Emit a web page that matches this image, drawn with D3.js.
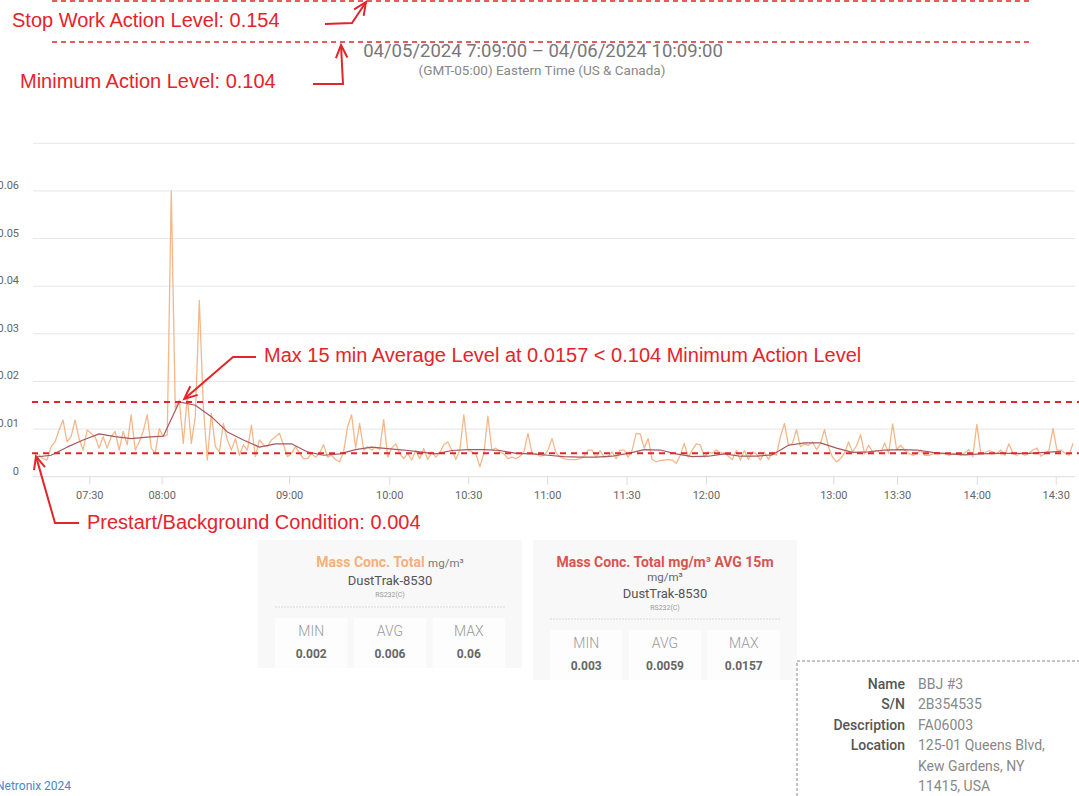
<!DOCTYPE html>
<html lang="en">
<head>
<meta charset="UTF-8">
<title>Mass Conc. Total - DustTrak-8530</title>
<script src="https://d3js.org/d3.v7.min.js"></script>
<style>
  body { margin: 0; background: #fff; }
  text { font-family: Roboto, "Liberation Sans", sans-serif; }
</style>
</head>
<body>
<script>
// raw readings, mg/m3 (one value per sample)
var rawMass = [
  0.0049,0.0045,0.0038,0.0035,0.0063,0.0073,0.0098,0.0119,0.0073,0.0084,
  0.0119,0.0080,0.0056,0.0098,0.0091,0.0084,0.0060,0.0084,0.0060,0.0084,
  0.0095,0.0056,0.0095,0.0067,0.0130,0.0056,0.0073,0.0095,0.0130,0.0060,
  0.0049,0.0101,0.0084,0.0088,0.0600,0.0143,0.0161,0.0070,0.0168,0.0070,
  0.0126,0.0370,0.0147,0.0035,0.0133,0.0063,0.0052,0.0112,0.0077,0.0056,
  0.0080,0.0045,0.0067,0.0056,0.0108,0.0042,0.0077,0.0067,0.0063,0.0077,
  0.0084,0.0091,0.0067,0.0042,0.0049,0.0063,0.0049,0.0038,0.0038,0.0049,
  0.0041,0.0049,0.0067,0.0041,0.0045,0.0036,0.0031,0.0052,0.0105,0.0130,
  0.0060,0.0112,0.0056,0.0063,0.0056,0.0062,0.0057,0.0120,0.0041,0.0060,
  0.0069,0.0049,0.0038,0.0049,0.0035,0.0055,0.0038,0.0059,0.0036,0.0052,
  0.0041,0.0050,0.0067,0.0073,0.0056,0.0036,0.0056,0.0130,0.0056,0.0052,
  0.0048,0.0021,0.0049,0.0127,0.0056,0.0060,0.0052,0.0048,0.0038,0.0041,
  0.0038,0.0043,0.0052,0.0091,0.0050,0.0048,0.0043,0.0045,0.0056,0.0080,
  0.0050,0.0041,0.0038,0.0036,0.0036,0.0036,0.0038,0.0043,0.0056,0.0056,
  0.0041,0.0055,0.0041,0.0042,0.0052,0.0038,0.0056,0.0056,0.0041,0.0056,
  0.0091,0.0090,0.0060,0.0080,0.0036,0.0031,0.0034,0.0035,0.0036,0.0035,
  0.0028,0.0045,0.0070,0.0041,0.0056,0.0069,0.0067,0.0041,0.0052,0.0049,
  0.0056,0.0050,0.0050,0.0043,0.0036,0.0055,0.0035,0.0055,0.0036,0.0052,
  0.0048,0.0035,0.0052,0.0036,0.0052,0.0045,0.0084,0.0112,0.0066,0.0070,
  0.0099,0.0063,0.0069,0.0066,0.0073,0.0057,0.0070,0.0099,0.0062,0.0041,
  0.0031,0.0038,0.0050,0.0073,0.0052,0.0065,0.0088,0.0048,0.0066,0.0052,
  0.0055,0.0049,0.0071,0.0049,0.0111,0.0057,0.0066,0.0056,0.0049,0.0045,
  0.0048,0.0056,0.0045,0.0045,0.0048,0.0049,0.0048,0.0049,0.0045,0.0048,
  0.0049,0.0045,0.0050,0.0057,0.0042,0.0110,0.0049,0.0050,0.0055,0.0052,
  0.0048,0.0056,0.0045,0.0069,0.0049,0.0045,0.0049,0.0045,0.0049,0.0056,
  0.0060,0.0043,0.0049,0.0055,0.0101,0.0056,0.0056,0.0049,0.0045,0.0070
];

// 15 min average, read at every 4th sample
var avgStep = 4;
var avg15 = [
  0.0041,0.0045,0.0062,0.0077,0.0090,0.0084,0.0080,0.0083,0.0085,0.0157,
  0.0150,0.0126,0.0094,0.0077,0.0062,0.0069,0.0069,0.0052,0.0045,0.0048,
  0.0057,0.0062,0.0059,0.0056,0.0052,0.0048,0.0055,0.0057,0.0057,0.0055,
  0.0049,0.0048,0.0045,0.0042,0.0041,0.0041,0.0043,0.0049,0.0057,0.0056,
  0.0048,0.0042,0.0043,0.0048,0.0043,0.0043,0.0046,0.0066,0.0071,0.0071,
  0.0060,0.0051,0.0052,0.0056,0.0057,0.0056,0.0051,0.0048,0.0046,0.0048,
  0.0049,0.0049,0.0049,0.0051,0.0053
];

// time labels and the sample position they fall on
var tickLabels = ["07:30","08:00","09:00","10:00","10:30","11:00","11:30","12:00","13:00","13:30","14:00","14:30"];
var tickAt = [13.55, 31.6, 63.4, 88.4, 108.1, 127.8, 147.6, 167.4, 199.2, 215.1, 235.0, 254.7];

var yTicks = [0, 0.01, 0.02, 0.03, 0.04, 0.05, 0.06, 0.07];
var yLabels = ["0", "0.01", "0.02", "0.03", "0.04", "0.05", "0.06", ""];

var maxAvgLevel = 0.0157;
var backgroundLevel = 0.0049;

var statNames = ["MIN", "AVG", "MAX"];
var rawStats = ["0.002", "0.006", "0.06"];
var avgStats = ["0.003", "0.0059", "0.0157"];

var infoLabels = ["Name", "S/N", "Description", "Location"];
var infoValues = [["BBJ #3"], ["2B354535"], ["FA06003"], ["125-01 Queens Blvd,", "Kew Gardens, NY", "11415, USA"]];

var red = "#e5232b";

var svg = d3.select("body").append("svg")
    .attr("width", 1079)
    .attr("height", 796);

var x = d3.scaleLinear().domain([0, rawMass.length - 1]).range([35, 1073]);
var y = d3.scaleLinear().domain([0, 0.07]).range([476.7, 143.3]);

// header
svg.append("text").attr("x", 543).attr("y", 57).attr("text-anchor", "middle")
    .style("font-size", "18.5px").style("fill", "#777")
    .text("04/05/2024 7:09:00 \u2013 04/06/2024 10:09:00");
svg.append("text").attr("x", 542).attr("y", 75).attr("text-anchor", "middle")
    .style("font-size", "13.5px").style("fill", "#888")
    .text("(GMT-05:00) Eastern Time (US & Canada)");

// grid
svg.append("g").selectAll("line").data(yTicks.slice(1)).join("line")
    .attr("x1", 33).attr("x2", 1075)
    .attr("y1", d => y(d)).attr("y2", d => y(d))
    .attr("stroke", "#e6e6e6");

svg.append("g").selectAll("text").data(yTicks).join("text")
    .attr("x", 19).attr("y", d => y(d) - 2)
    .attr("text-anchor", "end")
    .style("font-size", "11px").style("fill", "#666")
    .text((d, i) => yLabels[i]);

// x axis
var xAxis = svg.append("g")
    .attr("transform", "translate(0," + y(0) + ")")
    .call(d3.axisBottom(x).tickValues(tickAt).tickFormat((d, i) => tickLabels[i]).tickSize(8).tickPadding(7));
xAxis.select(".domain").attr("d", "M33,0H1075").attr("stroke", "#dcdcdc");
xAxis.selectAll(".tick line").attr("stroke", "#dcdcdc");
xAxis.selectAll(".tick text").style("font-size", "11px").style("fill", "#666")
    .style("font-family", "Roboto, sans-serif");

// series
var rawLine = d3.line().x((d, i) => x(i)).y(d => y(d));
var avgLine = d3.line().x((d, i) => x(i * avgStep)).y(d => y(d));

svg.append("path").attr("d", rawLine(rawMass))
    .attr("fill", "none").attr("stroke", "#f2aa76").attr("stroke-opacity", 0.85)
    .attr("stroke-width", 1.3).attr("stroke-linejoin", "round");
svg.append("path").attr("d", avgLine(avg15))
    .attr("fill", "none").attr("stroke", "#a45860")
    .attr("stroke-width", 1.2).attr("stroke-linejoin", "round");

// level lines in chart
svg.append("g").selectAll("line").data([maxAvgLevel, backgroundLevel]).join("line")
    .attr("x1", 32).attr("x2", 1079)
    .attr("y1", d => y(d)).attr("y2", d => y(d))
    .attr("stroke", red).attr("stroke-width", 2).attr("stroke-dasharray", "6,5");

// action level lines above the chart
[1, 42].forEach(function(yy) {
  svg.append("line").attr("x1", 52).attr("x2", 1031).attr("y1", yy).attr("y2", yy)
      .attr("stroke", red).attr("stroke-width", 1.5).attr("stroke-dasharray", "5,4");
});

function arrow(pts) {
  svg.append("path").attr("d", d3.line()(pts))
      .attr("fill", "none").attr("stroke", red).attr("stroke-width", 2);
  var p1 = pts[pts.length - 2], p2 = pts[pts.length - 1];
  var a = Math.atan2(p2[1] - p1[1], p2[0] - p1[0]), L = 14, w = 0.42;
  var head = [
    [p2[0] - L * Math.cos(a - w), p2[1] - L * Math.sin(a - w)],
    p2,
    [p2[0] - L * Math.cos(a + w), p2[1] - L * Math.sin(a + w)]
  ];
  svg.append("path").attr("d", d3.line()(head))
      .attr("fill", "none").attr("stroke", red).attr("stroke-width", 2);
}

function note(tx, ty, str) {
  svg.append("text").attr("x", tx).attr("y", ty)
      .style("font-family", "'Liberation Sans', Arial, sans-serif")
      .style("font-size", "20px").style("fill", red).text(str);
}

note(12, 27, "Stop Work Action Level: 0.154");
arrow([[325, 24], [352, 23], [366, 2]]);

note(20, 88, "Minimum Action Level: 0.104");
arrow([[313, 84], [343, 84], [341, 45]]);

var peakIdx = avg15.indexOf(d3.max(avg15)) * avgStep;
note(264, 362, "Max 15 min Average Level at 0.0157 < 0.104 Minimum Action Level");
arrow([[256, 357], [233, 357], [x(peakIdx) + 5, y(maxAvgLevel) - 3]]);

note(87, 529, "Prestart/Background Condition: 0.004");
arrow([[79, 523], [55, 523], [x(0) + 1, y(backgroundLevel) + 3]]);

// stat cards
function card(cx, top, h, titleParts, subLines, stats, statTop) {
  var g = svg.append("g");
  g.append("rect").attr("x", cx - 132).attr("y", top).attr("width", 264).attr("height", h)
      .attr("fill", "#f8f8f8");
  var t = g.append("text").attr("x", cx).attr("y", top + 27).attr("text-anchor", "middle");
  titleParts.forEach(function(p) {
    t.append("tspan").text(p.text).style("font-size", p.size).style("font-weight", p.weight).style("fill", p.color);
  });
  subLines.forEach(function(s) {
    g.append("text").attr("x", cx).attr("y", top + s.dy).attr("text-anchor", "middle")
        .style("font-size", s.size).style("fill", s.color).text(s.text);
  });
  g.append("line").attr("x1", cx - 115).attr("x2", cx + 115)
      .attr("y1", statTop - 11).attr("y2", statTop - 11)
      .attr("stroke", "#d8d8d8").attr("stroke-dasharray", "2,1");
  var cols = d3.scaleBand().domain(statNames).range([cx - 115, cx + 115]).paddingInner(0.08);
  statNames.forEach(function(n, i) {
    g.append("rect").attr("x", cols(n)).attr("y", statTop).attr("width", cols.bandwidth()).attr("height", 50)
        .attr("fill", "#fdfdfd");
    g.append("text").attr("x", cols(n) + cols.bandwidth() / 2).attr("y", statTop + 18)
        .attr("text-anchor", "middle").style("font-size", "14px").style("font-weight", 300)
        .style("fill", "#999").text(n);
    g.append("text").attr("x", cols(n) + cols.bandwidth() / 2).attr("y", statTop + 40)
        .attr("text-anchor", "middle").style("font-size", "12px").style("font-weight", 700)
        .style("fill", "#666").text(stats[i]);
  });
}

card(390, 540, 128,
  [{text: "Mass Conc. Total ", size: "14px", weight: 700, color: "#f5b07c"},
   {text: "mg/m\u00b3", size: "11.5px", weight: 400, color: "#777"}],
  [{text: "DustTrak-8530", dy: 45, size: "13px", color: "#555"},
   {text: "RS232(C)", dy: 57, size: "7px", color: "#999"}],
  rawStats, 618);

card(665, 540, 140,
  [{text: "Mass Conc. Total mg/m\u00b3 AVG 15m", size: "14px", weight: 700, color: "#d9534f"}],
  [{text: "mg/m\u00b3", dy: 41, size: "11.5px", color: "#666"},
   {text: "DustTrak-8530", dy: 58, size: "13px", color: "#555"},
   {text: "RS232(C)", dy: 70, size: "7px", color: "#999"}],
  avgStats, 630);

// device info box
svg.append("path").attr("d", "M797,796V661H1079")
    .attr("fill", "none").attr("stroke", "#888").attr("stroke-dasharray", "3,2");
var rowY = 689;
infoLabels.forEach(function(lab, i) {
  svg.append("text").attr("x", 905).attr("y", rowY).attr("text-anchor", "end")
      .style("font-size", "14px").style("font-weight", 500).style("fill", "#555").text(lab);
  infoValues[i].forEach(function(v) {
    svg.append("text").attr("x", 918).attr("y", rowY)
        .style("font-size", "14px").style("fill", "#888").text(v);
    rowY += 20.4;
  });
});

svg.append("text").attr("x", -4).attr("y", 790)
    .style("font-size", "12px").style("fill", "#4a86c5").text("Netronix 2024");
</script>
</body>
</html>
